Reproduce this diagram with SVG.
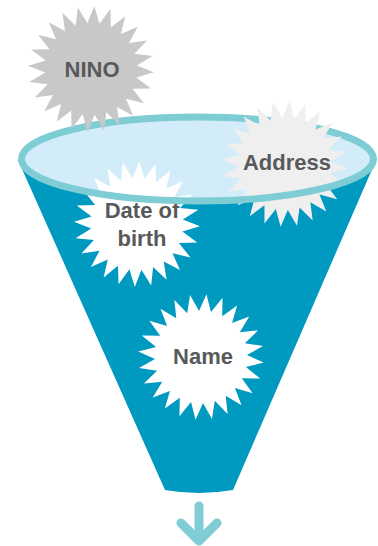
<svg xmlns="http://www.w3.org/2000/svg" xmlns:xlink="http://www.w3.org/1999/xlink" width="378" height="546" viewBox="0 0 378 546">
<style>
.lbl{font-family:"Liberation Sans",Arial,sans-serif;font-weight:bold;font-size:22px;fill:#58595B;text-anchor:middle}
.rim{fill:none;stroke:#7ECDD5;stroke-width:7}
.arrow{fill:none;stroke:#80CDD6;stroke-width:9;stroke-linecap:round;stroke-linejoin:round}
</style>
<defs>
<polygon id="star" points="63,0 45.6,6 60.85,16.31 42.5,17.6 54.56,31.5 36.49,28 44.55,44.55 28,36.49 31.5,54.56 17.6,42.5 16.31,60.85 6,45.6 0,63 -6,45.6 -16.31,60.85 -17.6,42.5 -31.5,54.56 -28,36.49 -44.55,44.55 -36.49,28 -54.56,31.5 -42.5,17.6 -60.85,16.31 -45.6,6 -63,0 -45.6,-6 -60.85,-16.31 -42.5,-17.6 -54.56,-31.5 -36.49,-28 -44.55,-44.55 -28,-36.49 -31.5,-54.56 -17.6,-42.5 -16.31,-60.85 -6,-45.6 0,-63 6,-45.6 16.31,-60.85 17.6,-42.5 31.5,-54.56 28,-36.49 44.55,-44.55 36.49,-28 54.56,-31.5 42.5,-17.6 60.85,-16.31 45.6,-6"/>
</defs>
<g id="funnel">
<path d="M18,160 L377,158 L233,490 Q199,496 165,490 Z" fill="#0099C0"/>
<ellipse cx="197.5" cy="159" rx="176" ry="42" fill="#D3ECF9"/>
<path class="rim" d="M21.5,159 A176,42 0 0 1 373.5,159"/>
</g>
<g id="address">
<use xlink:href="#star" transform="translate(285,164) rotate(4)" fill="#EFEFEF"/>
<text class="lbl" x="287" y="170">Address</text>
</g>
<g id="date-of-birth">
<use xlink:href="#star" transform="translate(137,224) rotate(2)" fill="#FFFFFF"/>
<text class="lbl" x="142" y="218">Date of</text>
<text class="lbl" x="142" y="246">birth</text>
</g>
<g id="name">
<use xlink:href="#star" transform="translate(201,357) rotate(5)" fill="#FFFFFF"/>
<text class="lbl" x="203" y="364">Name</text>
</g>
<g id="funnel-front">
<path class="rim" d="M373.5,159 A176,42 0 0 1 21.5,159"/>
</g>
<g id="nino">
<use xlink:href="#star" transform="translate(91,69) rotate(3)" fill="#C8C8C8"/>
<text class="lbl" x="92" y="77">NINO</text>
</g>
<g id="connectors">
<path class="arrow" d="M199,506 L199,540 M181,523 L199,541 L217,523"/>
</g>
</svg>
